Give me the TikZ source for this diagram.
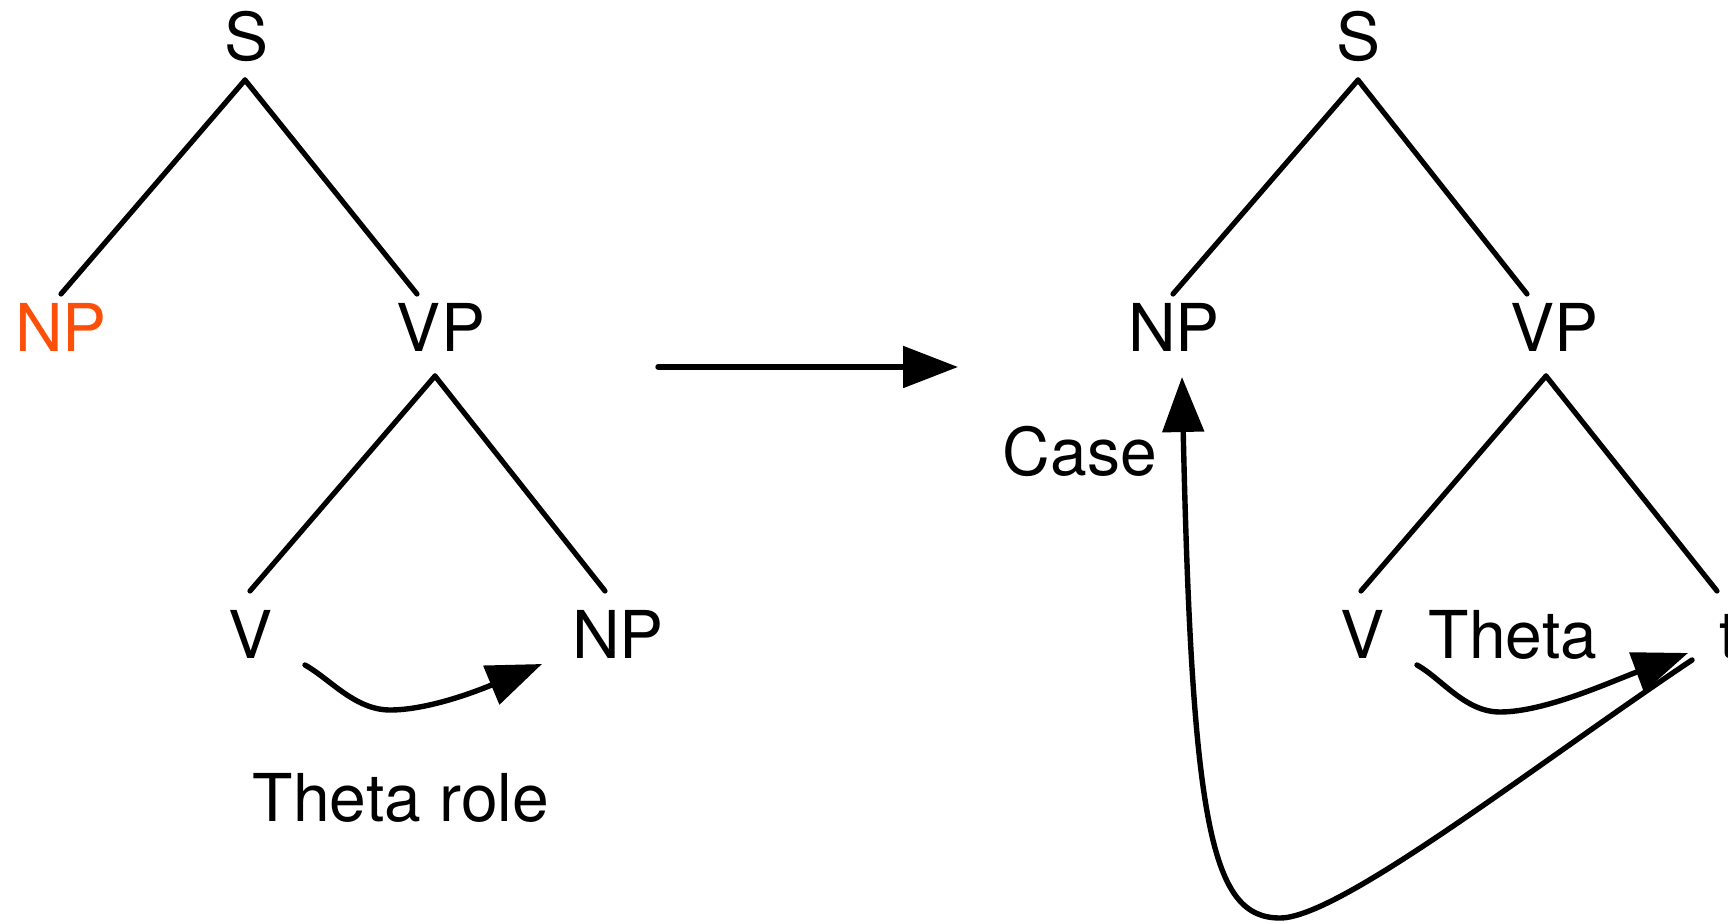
\documentclass[tikz,border=0pt]{standalone}
\usepackage{fontspec}
\setmainfont{TeX Gyre Heros}
\usetikzlibrary{arrows.meta}
\definecolor{npOrange}{RGB}{252,80,10}
\begin{document}
\begin{tikzpicture}[x=0.5pt,y=-0.5pt,
  lab/.style={inner sep=0pt, anchor=base, font=\fontsize{33}{40}\selectfont},
  branch/.style={line width=2.6pt, line cap=round},
  link/.style={line width=2.7pt, line cap=round,
    -{Triangle[length=27.5pt,width=20.5pt]}}]
\useasboundingbox (0,0) rectangle (1728,924);

% left tree: before movement
\node[lab] (S1) at (247,61) {S};
\node[lab, text=npOrange] (NPa) at (61,352) {NP};
\node[lab] (VPa) at (441,352) {VP};
\node[lab] (Va) at (251,658) {V};
\node[lab] (NPb) at (618,658) {NP};
\node[lab] (roleA) at (401,821) {Theta role};

\draw[branch] ([shift={(-2,19)}]S1.base) -- ([shift={(0,-58)}]NPa.base);
\draw[branch] ([shift={(-2,19)}]S1.base) -- ([shift={(-24,-58)}]VPa.base);
\draw[branch] ([shift={(-6,24)}]VPa.base) -- ([shift={(-1,-67)}]Va.base);
\draw[branch] ([shift={(-6,24)}]VPa.base) -- ([shift={(-13,-67)}]NPb.base);

\draw[link] ([shift={(54,7)}]Va.base)
  .. controls (330,679) and (355,710) .. (390,710)
  .. controls (425,710) and (470,694) .. ([shift={(-76,6)}]NPb.base);

% transformation arrow
\coordinate (mA) at (658,367);
\coordinate (mB) at (958,367);
\draw[link] (mA) -- (mB);

% right tree: after movement
\node[lab] (S2) at (1358,61) {S};
\node[lab] (NPc) at (1174,352) {NP};
\node[lab] (VPc) at (1554,352) {VP};
\node[lab] (Vc) at (1362,658) {V};
\node[lab] (thetaC) at (1513,658) {Theta};
\node[lab, anchor=base west] (tc) at (1719,658) {t};
\node[lab] (caseC) at (1080,476) {Case};

\draw[branch] ([shift={(0,19)}]S2.base) -- ([shift={(-1,-58)}]NPc.base);
\draw[branch] ([shift={(0,19)}]S2.base) -- ([shift={(-27,-58)}]VPc.base);
\draw[branch] ([shift={(-8,24)}]VPc.base) -- ([shift={(-1,-67)}]Vc.base);
\draw[branch] ([shift={(-8,24)}]VPc.base) -- ([shift={(-2,-67)}]tc.base west);

\draw[link] ([shift={(55,7)}]Vc.base)
  .. controls (1442,679) and (1465,712) .. (1500,712)
  .. controls (1545,712) and (1610,682) .. ([shift={(-31,-5)}]tc.base west);

\draw[link] ([shift={(-27,2)}]tc.base west)
  .. controls (1535,765) and (1340,918) .. (1280,918)
  .. controls (1212,918) and (1192,830) .. ([shift={(8,25)}]NPc.base);
\end{tikzpicture}
\end{document}
